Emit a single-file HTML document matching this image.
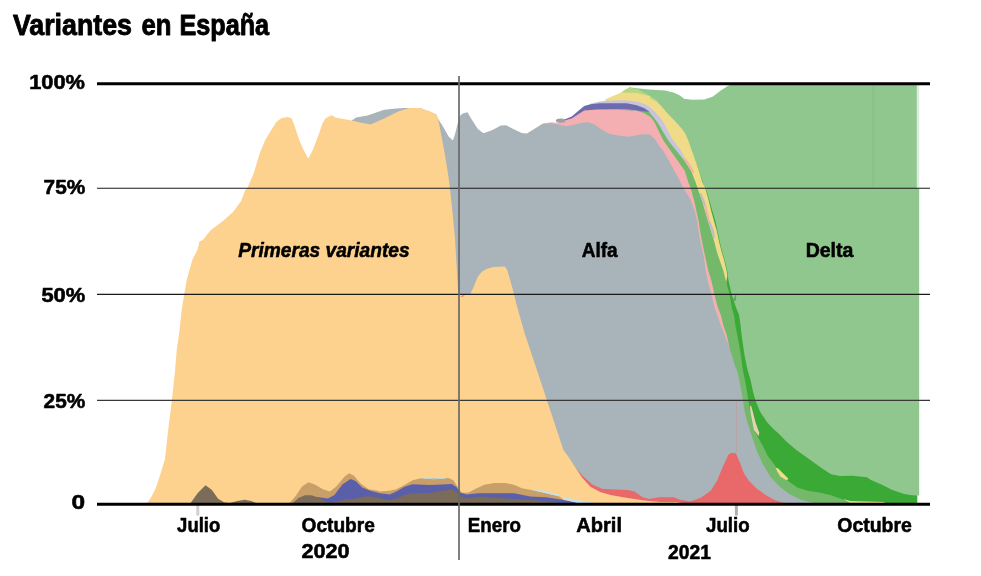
<!DOCTYPE html>
<html><head><meta charset="utf-8"><title>Variantes en España</title>
<style>html,body{margin:0;padding:0;background:#fff}svg{display:block}</style></head>
<body>
<svg width="981" height="576" viewBox="0 0 981 576">
<rect width="981" height="576" fill="#fff"/>
<polygon points="629.4,87.3 636.7,88.2 648.9,89.4 665.3,90.6 673.4,92.4 680.0,95.4 684.0,98.8 691.7,99.8 704.2,99.4 712.5,96.7 720.8,90.4 728.1,85.8 733.3,84.0 916.9,84.0 916.9,188.3 919.2,188.3 919.2,495.4 917.2,495.4 917.2,503.0 917.2,504.0 629.4,504.0" fill="#90C78E" />
<polygon points="697.0,165.0 704.2,186.3 706.3,190.0 709.3,200.0 712.2,210.4 715.3,220.8 717.6,231.3 719.7,241.7 722.3,252.1 724.7,260.0 727.2,270.4 728.5,280.8 731.7,294.4 735.8,306.9 739.1,315.0 740.6,325.4 741.7,335.8 743.2,346.3 744.8,356.7 746.9,367.1 747.6,370.0 750.7,380.4 752.8,390.8 755.4,400.2 760.1,411.7 766.9,422.1 770.6,426.0 774.5,430.0 777.8,432.8 786.9,441.9 796.0,449.7 805.1,456.3 814.2,462.8 823.3,469.3 831.1,474.2 840.0,476.0 852.3,475.8 866.8,477.3 871.0,480.0 881.4,484.6 891.8,489.8 904.3,494.0 912.0,495.2 917.2,495.6 917.2,503.0 917.2,504.0 697.0,504.0" fill="#3BA935" />
<polygon points="621.2,92.6 625.3,89.4 629.4,87.5 638.3,89.4 645.7,93.5 650.6,96.3 657.1,100.6 657.6,104.0 657.6,504.0 621.2,504.0" fill="#B7D67F" />
<polygon points="605.3,100.4 605.6,99.2 613.0,96.0 621.2,92.6 628.5,92.8 636.7,93.1 644.0,94.7 647.3,95.5 649.8,96.0 650.6,98.4 653.0,100.0 657.1,101.9 661.5,106.3 667.5,113.4 675.2,121.3 682.5,129.5 685.6,134.2 688.1,140.0 691.8,150.4 695.4,160.8 699.1,171.3 702.2,181.7 705.2,188.0 708.6,200.0 711.1,210.4 713.9,220.8 716.9,231.3 719.1,241.7 721.7,252.1 724.1,260.0 726.6,270.4 727.3,276.0 726.3,282.0 726.3,504.0 605.3,504.0" fill="#F0DC88" />
<polygon points="590.0,103.8 600.0,101.5 605.3,100.8 624.5,100.3 636.7,101.4 645.7,104.5 650.6,107.7 655.5,112.2 662.5,120.8 666.5,128.0 671.6,138.0 677.5,146.0 681.0,150.4 684.5,157.2 685.0,161.0 685.0,504.0 590.0,504.0" fill="#C9C4DD" />
<polygon points="564.4,119.6 571.7,116.5 577.9,111.3 584.2,106.0 590.4,104.2 600.0,103.3 626.9,103.3 636.7,105.3 644.0,108.1 648.9,111.2 649.3,112.3 649.3,504.0 564.4,504.0" fill="#6D6BAD" />
<polygon points="636.5,110.4 643.2,111.2 648.9,111.8 652.0,115.5 656.3,120.8 659.5,125.5 662.0,130.0 667.3,139.0 672.5,146.0 676.2,150.4 684.5,160.8 691.3,171.3 695.4,181.7 697.5,188.0 701.8,200.0 704.9,210.4 708.0,220.8 711.1,231.3 714.3,241.7 716.9,252.1 719.6,260.0 723.3,270.4 725.9,280.8 729.6,294.4 731.7,306.9 733.9,315.0 735.4,325.4 737.5,335.8 739.4,346.3 741.1,356.7 742.5,367.1 742.9,370.0 745.0,380.4 746.9,390.8 748.3,400.2 750.4,411.7 752.3,422.1 753.9,430.0 757.0,435.4 762.1,444.5 768.0,456.3 773.9,464.1 780.4,473.2 788.2,481.0 797.3,487.5 807.7,490.8 820.7,492.7 831.1,495.3 840.0,498.6 850.0,502.3 851.0,503.0 851.0,504.0 636.5,504.0" fill="#74B96A" />
<polygon points="542.5,123.8 550.8,122.3 557.1,122.7 564.4,120.6 571.7,118.5 577.9,114.4 584.2,110.6 596.7,109.4 616.3,109.3 628.5,109.9 636.7,110.7 644.0,112.9 648.9,115.9 650.5,117.0 654.2,121.7 660.4,134.5 663.1,140.0 670.4,150.4 677.7,160.8 685.0,171.3 688.1,181.7 690.7,188.0 694.0,200.0 696.3,210.4 698.6,220.8 700.2,231.3 702.1,241.7 704.2,252.1 706.0,260.0 708.2,270.4 711.4,280.8 714.5,294.4 717.6,306.9 720.8,315.0 723.4,325.4 726.9,335.8 729.2,346.5 729.2,504.0 542.5,504.0" fill="#F4AFB2" />
<polygon points="351.9,120.6 356.0,117.5 367.5,115.4 384.2,109.8 396.7,108.5 405.0,108.1 420.0,108.0 436.3,114.4 437.9,118.5 442.5,125.8 448.8,136.7 452.9,140.4 455.0,134.2 458.1,121.7 460.2,115.4 463.3,113.3 467.5,112.3 471.7,119.6 477.9,129.0 483.1,133.1 484.2,133.1 492.5,130.0 500.8,125.4 506.0,125.2 513.3,129.0 521.7,133.1 526.9,133.5 534.2,129.0 542.5,123.8 550.8,123.3 559.2,124.8 565.4,126.3 573.8,124.8 582.1,122.7 588.3,122.3 594.6,124.4 600.8,129.0 609.2,133.8 619.6,135.8 629.0,136.7 641.7,134.2 650.0,134.6 655.2,139.4 660.4,147.5 663.1,150.4 668.9,160.8 674.6,171.3 680.3,181.7 683.4,188.0 690.8,200.0 694.5,210.4 697.1,220.8 698.6,231.3 700.5,241.7 702.8,252.1 704.3,260.0 705.6,270.4 707.7,280.8 711.4,294.4 714.5,306.9 717.2,315.0 720.8,325.4 725.0,335.8 729.0,346.3 732.3,356.7 735.4,367.1 737.2,371.0 739.3,380.4 741.4,390.8 742.9,400.2 744.7,411.7 747.3,422.1 749.0,427.0 752.4,438.0 756.9,451.0 762.8,464.1 770.6,477.1 779.1,486.2 789.5,494.0 801.2,500.0 815.0,503.3 815.0,504.0 351.9,504.0" fill="#A9B3BA" />
<polygon points="566.0,455.0 575.7,467.9 583.8,476.9 592.0,484.3 601.8,488.8 614.8,489.5 627.9,490.0 634.4,491.6 642.6,497.3 649.1,498.9 658.9,497.3 673.6,497.3 680.1,499.8 690.0,501.4 700.4,498.1 710.8,490.8 717.1,480.4 723.3,465.8 728.5,454.4 731.7,452.7 735.8,453.3 740.0,462.8 743.9,473.2 749.1,481.0 756.9,488.8 766.0,495.3 774.5,500.0 783.8,502.9 783.8,504.0 566.0,504.0" fill="#E9686A" />
<polygon points="147.2,503.1 150.9,497.8 155.6,488.4 160.3,474.4 165.0,458.8 168.1,430.6 171.9,400.0 175.0,371.3 176.7,350.0 179.4,331.7 181.4,312.2 184.2,294.2 186.9,278.9 192.5,259.4 197.5,249.7 199.4,241.4 202.8,240.0 210.6,230.3 221.7,221.9 232.8,212.2 241.1,201.1 245.3,190.0 247.3,188.3 253.5,173.8 259.8,152.9 265.0,140.4 271.3,130.0 276.5,121.7 281.7,118.1 287.9,117.1 291.7,118.5 294.2,124.8 298.3,137.3 302.5,147.7 308.3,158.8 312.9,149.8 319.2,133.1 322.3,123.8 325.4,118.5 330.6,115.4 333.1,115.8 335.2,117.5 351.9,120.6 361.3,122.7 370.6,124.4 384.2,118.5 398.8,111.3 409.2,108.1 419.6,108.1 430.0,111.3 436.3,114.4 438.3,119.6 441.5,136.3 444.6,152.9 447.7,171.7 448.9,180.0 450.5,193.5 452.7,213.9 455.0,238.7 456.6,265.8 457.9,288.4 458.8,295.1 469.7,295.1 473.0,288.4 477.6,277.1 482.1,271.4 487.7,268.5 493.8,267.1 504.7,266.4 507.3,270.1 512.0,286.5 517.5,308.3 524.8,333.8 532.1,355.7 539.4,377.6 546.7,399.5 553.9,421.3 561.2,443.2 563.4,450.0 568.3,456.5 575.7,467.9 582.2,477.7 590.4,486.7 600.1,492.1 611.6,495.3 627.9,498.1 644.2,500.6 660.5,501.9 676.8,501.9 681.7,503.0 681.7,504.0 147.2,504.0" fill="#FDD28E" />
<polygon points="289.5,503.0 295.3,496.5 301.8,486.7 308.3,482.3 314.8,484.6 323.0,489.2 329.8,491.6 336.0,486.7 344.2,476.9 349.1,473.2 354.0,475.8 360.5,483.4 368.7,489.2 376.8,490.5 380.0,491.6 389.8,490.8 396.3,489.2 404.5,485.1 412.6,480.2 422.4,478.1 435.5,478.1 448.5,478.1 453.4,480.2 457.5,486.7 461.6,492.4 468.1,492.7 474.6,489.2 484.4,484.7 494.2,483.1 505.6,483.1 513.8,484.7 521.9,488.3 530.0,489.8 546.3,493.2 559.2,496.6 562.0,498.4 563.5,500.0 566.0,503.0 566.0,504.0 289.5,504.0" fill="#C89F68" />
<polygon points="316.0,497.0 318.9,497.3 327.9,498.6 334.4,494.9 342.6,484.3 350.7,479.0 355.6,481.0 362.1,487.5 370.3,490.8 380.0,493.2 389.8,494.4 396.3,491.6 404.5,486.7 412.6,484.3 429.0,485.1 442.0,484.6 451.8,483.9 456.7,487.2 459.9,492.4 466.5,494.4 477.9,493.2 494.2,493.2 513.8,493.2 526.8,495.7 530.0,496.5 546.3,497.3 562.6,499.8 578.9,503.0 578.9,504.0 316.0,504.0" fill="#5A5FA9" />
<polygon points="190.6,503.0 197.8,493.1 205.6,485.3 211.9,490.0 218.1,498.8 224.4,502.5 230.0,503.0 237.3,500.9 244.7,499.8 251.2,500.9 256.1,503.0 292.8,503.0 298.5,498.1 305.0,495.2 311.6,495.3 319.7,498.1 327.9,502.2 331.1,503.0 337.7,501.4 344.2,499.8 355.6,498.5 367.0,496.0 376.8,497.6 380.0,498.1 389.8,500.2 397.9,498.1 404.5,494.9 412.6,493.2 432.2,492.7 442.0,490.8 451.8,489.6 456.7,492.1 459.9,495.7 466.5,498.6 481.1,496.5 497.5,498.1 518.7,499.3 530.0,499.8 546.3,501.4 557.7,503.0 557.7,504.0 190.6,504.0" fill="#7B6B59" />

<polygon points="530.6,489.1 544.5,491 559.2,494.7 559.4,495.9 552.6,494.7 536.3,491" fill="#BFE3F3"/>
<polygon points="562,497.1 577,500 591.8,502.6 591.8,503.4 578.7,503.2 564,499.2" fill="#BFE3F3"/>
<polygon points="422,477.8 434,478.4 446,477.8 446,478.6 434,479.2 422,478.6" fill="#BFE3F3"/>
<polygon points="616,108.9 629,109.4 636.8,110.2 636.8,111 629,110.4 616,109.7" fill="#AAAAAC"/>
<rect x="916.9" y="85" width="2.3" height="103.3" fill="#DDECDC"/>
<line x1="873.2" y1="85.5" x2="873.2" y2="188" stroke="#82BA81" stroke-width="0.8"/>
<ellipse cx="560.7" cy="120.6" rx="4.8" ry="2.2" fill="#9d9fa0"/>
<polygon points="750,405.8 751.2,406 752.8,411.7 755.4,422.1 758.2,430 759.3,432.5 758.6,436.2 756.3,433 753.9,430 752.3,422.1 750.4,411.7" fill="#E6D3B3"/>
<polygon points="684.5,157.3 687.6,160.8 691,166 693.9,171.3 693.7,174 691.3,171.3 687.5,165 684.5,160.8" fill="#F4AFB2"/>
<polygon points="699.3,193 701.2,193 704.4,200 706.4,206.5 704.2,206.5 701.8,200" fill="#C0BDC6"/>
<polygon points="704.2,206.5 706.4,206.5 710.3,221.5 708.2,221.5" fill="#F4AFB2"/>
<polygon points="708.2,221.5 710.3,221.5 714.3,231.3 714.9,238.5 713.4,238 711.1,231.3" fill="#C0BDC6"/>
<polygon points="460.3,296.3 464.6,294.9 463,296.8" fill="#E9686A"/>
<polygon points="736.4,293.2 735.9,300.5 732.6,301.5 733.6,298.5" fill="#6f9f6d"/>
<polygon points="775.8,468 778,468.3 781.7,471.9 788.2,478.4 787.6,480 785.6,479.7 780.4,476.4 777.1,471.2" fill="#F0DC88"/>
<polygon points="842.9,498.8 850,501 884.5,502 884.5,503 850,503" fill="#F0DC88"/>


<g stroke="#1a1a1a" stroke-width="1.1">
<line x1="97" y1="188.3" x2="930" y2="188.3"/>
<line x1="97" y1="294.4" x2="930" y2="294.4"/>
</g>
<line x1="97" y1="400.3" x2="930" y2="400.3" stroke="#383838" stroke-width="1.25"/>
<line x1="736.5" y1="401" x2="736.5" y2="453" stroke="#bf9c9c" stroke-width="0.7"/>
<line x1="197.8" y1="505" x2="197.8" y2="514.3" stroke="#d0d0d0" stroke-width="3" stroke-linecap="round"/>
<line x1="736.4" y1="505" x2="736.4" y2="514.3" stroke="#b0b0b0" stroke-width="3" stroke-linecap="round"/>
<line x1="97" y1="83.7" x2="930" y2="83.7" stroke="#000" stroke-width="3"/>
<line x1="97" y1="504.2" x2="930" y2="504.2" stroke="#000" stroke-width="3"/>
<line x1="459" y1="76" x2="459" y2="560" stroke="#6a6a6a" stroke-width="1.7"/>

<g fill="#000" stroke="#000" stroke-width="0.55" stroke-linejoin="round">
<text y="34.9" font-size="29.5" stroke-width="0.9" font-family="Liberation Sans, sans-serif" font-weight="bold" lengthAdjust="spacingAndGlyphs"><tspan x="12.9" textLength="119.1" lengthAdjust="spacingAndGlyphs">Variantes</tspan> <tspan x="141.4" textLength="30" lengthAdjust="spacingAndGlyphs">en</tspan> <tspan x="179.4" textLength="89.7" lengthAdjust="spacingAndGlyphs">España</tspan></text>
<text x="29.2" y="89.4" font-size="19.4" textLength="55.7" lengthAdjust="spacingAndGlyphs" font-family="Liberation Sans, sans-serif" font-weight="bold" >100%</text>
<text x="43.6" y="193.8" font-size="19.4" textLength="41.6" lengthAdjust="spacingAndGlyphs" font-family="Liberation Sans, sans-serif" font-weight="bold" >75%</text>
<text x="41.4" y="302.1" font-size="19.4" textLength="43.8" lengthAdjust="spacingAndGlyphs" font-family="Liberation Sans, sans-serif" font-weight="bold" >50%</text>
<text x="43.6" y="407.5" font-size="19.4" textLength="41.6" lengthAdjust="spacingAndGlyphs" font-family="Liberation Sans, sans-serif" font-weight="bold" >25%</text>
<text x="71.6" y="509.4" font-size="19.4" textLength="13.6" lengthAdjust="spacingAndGlyphs" font-family="Liberation Sans, sans-serif" font-weight="bold" >0</text>
<text x="177.1" y="531.8" font-size="20" textLength="43.2" lengthAdjust="spacingAndGlyphs" font-family="Liberation Sans, sans-serif" font-weight="bold" >Julio</text>
<text x="301.5" y="531.8" font-size="20" textLength="73.4" lengthAdjust="spacingAndGlyphs" font-family="Liberation Sans, sans-serif" font-weight="bold" >Octubre</text>
<text x="301.5" y="558.3" font-size="20" textLength="48.1" lengthAdjust="spacingAndGlyphs" font-family="Liberation Sans, sans-serif" font-weight="bold" >2020</text>
<text x="467.8" y="531.8" font-size="20" textLength="53.1" lengthAdjust="spacingAndGlyphs" font-family="Liberation Sans, sans-serif" font-weight="bold" >Enero</text>
<text x="576.3" y="532.2" font-size="20" textLength="45.7" lengthAdjust="spacingAndGlyphs" font-family="Liberation Sans, sans-serif" font-weight="bold" >Abril</text>
<text x="706" y="532.2" font-size="20" textLength="43.6" lengthAdjust="spacingAndGlyphs" font-family="Liberation Sans, sans-serif" font-weight="bold" >Julio</text>
<text x="837.3" y="532.2" font-size="20" textLength="74.6" lengthAdjust="spacingAndGlyphs" font-family="Liberation Sans, sans-serif" font-weight="bold" >Octubre</text>
<text x="668" y="559" font-size="20" textLength="42.9" lengthAdjust="spacingAndGlyphs" font-family="Liberation Sans, sans-serif" font-weight="bold" >2021</text>
<text x="238.3" y="256.8" font-size="20" textLength="171.3" lengthAdjust="spacingAndGlyphs" font-family="Liberation Sans, sans-serif" font-weight="bold" font-style="italic">Primeras variantes</text>
<text x="581.7" y="256.8" font-size="20" textLength="35.9" lengthAdjust="spacingAndGlyphs" font-family="Liberation Sans, sans-serif" font-weight="bold" >Alfa</text>
<text x="805.7" y="256.6" font-size="20" textLength="47.7" lengthAdjust="spacingAndGlyphs" font-family="Liberation Sans, sans-serif" font-weight="bold" >Delta</text>
</g>
</svg>
</body></html>
